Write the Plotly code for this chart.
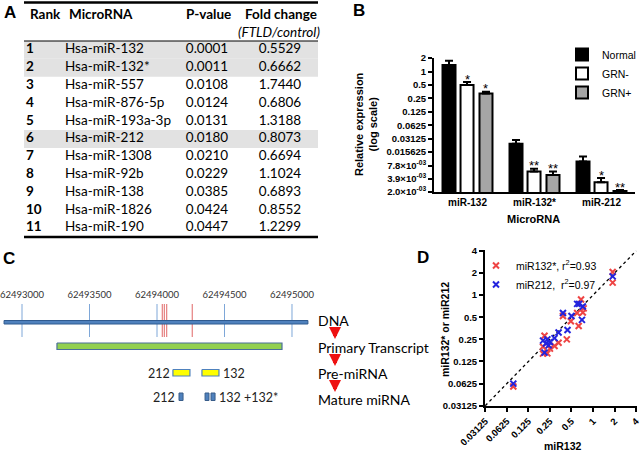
import plotly.graph_objects as go
import math

W, H = 640, 451


def px(x):
    return x / W


def py(y):
    return 1 - y / H


# ---------------- Panel A data ----------------
ranks = [1, 2, 3, 4, 5, 6, 7, 8, 9, 10, 11]
mirnas = ["Hsa-miR-132", "Hsa-miR-132*", "Hsa-miR-557", "Hsa-miR-876-5p", "Hsa-miR-193a-3p",
          "Hsa-miR-212", "Hsa-miR-1308", "Hsa-miR-92b", "Hsa-miR-138", "Hsa-miR-1826", "Hsa-miR-190"]
pvalues = ["0.0001", "0.0011", "0.0108", "0.0124", "0.0131", "0.0180", "0.0210", "0.0229",
           "0.0385", "0.0424", "0.0447"]
fold_changes = ["0.5529", "0.6662", "1.7440", "0.6806", "1.3188", "0.8073", "0.6694", "1.1024",
                "0.6893", "0.8552", "1.2299"]
shaded_ranks = [1, 2, 6]
table_headers = ["Rank", "MicroRNA", "P-value", "Fold change"]
fold_subheader = "(FTLD/control)"

# ---------------- Panel B data ----------------
categories = ["miR-132", "miR-132*", "miR-212"]
groups = ["Normal", "GRN-", "GRN+"]
normal = [1.40, 0.024, 0.0096]
normal_err = [0.35, 0.005, 0.0028]
grn_minus = [0.50, 0.0057, 0.0033]
grn_minus_err = [0.08, 0.0009, 0.0008]
grn_plus = [0.32, 0.0048, 0.0021]
grn_plus_err = [0.03, 0.0009, 0.0001]
grn_minus_sig = ["*", "**", "*"]
grn_plus_sig = ["*", "**", "**"]
b_tickvals = [2, 1, 0.5, 0.25, 0.125, 0.0625, 0.03125, 0.015625, 0.0078, 0.0039, 0.002]
b_ticktext = ["2", "1", "0.5", "0.25", "0.125", "0.0625", "0.03125", "0.015625",
              "7.8×10<sup>-03</sup>", "3.9×10<sup>-03</sup>", "2.0×10<sup>-03</sup>"]

# ---------------- Panel C data ----------------
c_ticks = [62493000, 62493500, 62494000, 62494500, 62495000]
dna_span = [62492867, 62495118]
primary_span = [62493259, 62494926]
pre_212 = [62494118, 62494244]
pre_132 = [62494333, 62494459]
mature_212 = [62494163, 62494193]
mature_132 = [62494356, 62494385]
mature_132s = [62494400, 62494430]
variant_positions = [62494039, 62494054, 62494072, 62494261]
stages = ["DNA", "Primary Transcript", "Pre-miRNA", "Mature miRNA"]

# ---------------- Panel D data ----------------
d_ticks = [0.03125, 0.0625, 0.125, 0.25, 0.5, 1, 2, 4]
d_ticktext = ["0.03125", "0.0625", "0.125", "0.25", "0.5", "1", "2", "4"]
mir132_x_a = [1.88, 1.88, 0.68, 0.74, 0.72, 0.60, 0.38, 0.49, 0.63, 0.43, 0.21, 0.33, 0.29,
              0.25, 0.20, 0.23, 0.20, 0.077]
mir132s_y = [2.06, 1.48, 0.87, 0.66, 0.58, 0.57, 0.52, 0.44, 0.38, 0.25, 0.28, 0.225, 0.203,
             0.187, 0.198, 0.161, 0.160, 0.057]
mir132_x_b = [1.88, 0.60, 0.64, 0.72, 0.38, 0.50, 0.70, 0.44, 0.33, 0.29, 0.20, 0.23, 0.22,
              0.24, 0.25, 0.21, 0.077]
mir212_y = [1.80, 0.76, 0.76, 0.70, 0.57, 0.52, 0.46, 0.335, 0.31, 0.26, 0.24, 0.25, 0.22,
            0.207, 0.23, 0.165, 0.0625]
d_legend = ["miR132*, r<sup>2</sup>=0.93", "miR212,  r<sup>2</sup>=0.97"]

ARIAL = "Arial, Liberation Sans, sans-serif"
CAL = "Lato, Carlito, sans-serif"

fig = go.Figure()
annotations = []

# ---------------- Panel A: table (hidden axes x5/y5, y = rank) ----------------
fig.add_trace(go.Bar(
    y=shaded_ranks, x=[294] * len(shaded_ranks), base=24, orientation="h", width=1,
    marker=dict(color="#e2e2e2", line=dict(width=0)), xaxis="x5", yaxis="y5",
    hoverinfo="skip", showlegend=False))
cell_font = dict(family=CAL, size=13.5, color="black")
for col_x, texts, pos in [(26, [f"<b>{r}</b>" for r in ranks], "middle right"),
                          (65, mirnas, "middle right"),
                          (207, pvalues, "middle center"),
                          (280, fold_changes, "middle center")]:
    fig.add_trace(go.Scatter(x=[col_x] * len(ranks), y=ranks, text=texts, mode="text",
                             textposition=pos, textfont=cell_font, xaxis="x5", yaxis="y5",
                             hoverinfo="skip", showlegend=False, cliponaxis=False))
hdr_font = dict(family=CAL, size=13.5, color="black", weight="bold")
for h, x, anchor in zip(table_headers, [28, 67, 208, 281], ["left", "left", "center", "center"]):
    annotations.append(dict(x=px(x), y=py(14), xref="paper", yref="paper", text=h, showarrow=False,
                            xanchor=anchor, yanchor="middle", font=hdr_font))
annotations.append(dict(x=px(279), y=py(32), xref="paper", yref="paper",
                        text=f"<i>{fold_subheader}</i>", showarrow=False, xanchor="center",
                        yanchor="middle", font=dict(family=CAL, size=13.5, color="black")))

# ---------------- Panel B: bars ----------------
bar_fill = ["black", "white", "#a6a6a6"]
bar_vals = [normal, grn_minus, grn_plus]
bar_errs = [normal_err, grn_minus_err, grn_plus_err]
bar_offsets = [-0.373, -0.104, 0.179]
bar_width = 0.194
for name, vals, errs, col, off in zip(groups, bar_vals, bar_errs, bar_fill, bar_offsets):
    fig.add_trace(go.Bar(
        x=categories, y=vals, name=name, xaxis="x2", yaxis="y2",
        offset=off, width=bar_width,
        marker=dict(color=col, line=dict(color="black", width=2)),
        error_y=dict(type="data", array=errs, arrayminus=[0] * len(errs), symmetric=False,
                     color="black", thickness=2, width=4),
        legend="legend",
    ))

for sigs, vals, errs, off in [(grn_minus_sig, grn_minus, grn_minus_err, bar_offsets[1]),
                              (grn_plus_sig, grn_plus, grn_plus_err, bar_offsets[2])]:
    for i, (s, v, e) in enumerate(zip(sigs, vals, errs)):
        annotations.append(dict(x=i + off + bar_width / 2, y=math.log10(v + e), xref="x2", yref="y2",
                                text=s, showarrow=False, yanchor="middle", yshift=3,
                                font=dict(family=ARIAL, size=13, color="black")))

# ---------------- Panel C: gene diagram ----------------
def rect(x0, x1, y0, y1, fill, line, lw=1):
    return go.Scatter(x=[x0, x1, x1, x0, x0], y=[y0, y0, y1, y1, y0], mode="lines",
                      fill="toself", fillcolor=fill, line=dict(color=line, width=lw),
                      xaxis="x4", yaxis="y4", hoverinfo="skip", showlegend=False)


vx, vy = [], []
for t in c_ticks:
    vx += [t, t, None]
    vy += [304, 337, None]
fig.add_trace(go.Scatter(x=vx, y=vy, mode="lines", line=dict(color="#7ea7d8", width=1),
                         xaxis="x4", yaxis="y4", hoverinfo="skip", showlegend=False))
rx, ry = [], []
for t in variant_positions:
    rx += [t, t, None]
    ry += [304, 337, None]
fig.add_trace(go.Scatter(x=rx, y=ry, mode="lines", line=dict(color="#e06666", width=1),
                         xaxis="x4", yaxis="y4", hoverinfo="skip", showlegend=False))
fig.add_trace(rect(dna_span[0], dna_span[1], 320.5, 324, "#4f81bd", "#2f5a8f", 1))
fig.add_trace(rect(primary_span[0], primary_span[1], 343, 349.5, "#92d050", "#4a6f9a", 1.2))
fig.add_trace(rect(pre_212[0], pre_212[1], 369.5, 376, "#ffff00", "#4f81bd", 1.2))
fig.add_trace(rect(pre_132[0], pre_132[1], 369.5, 376, "#ffff00", "#4f81bd", 1.2))
for m in (mature_212, mature_132, mature_132s):
    fig.add_trace(rect(m[0], m[1], 393, 400.5, "#4f81bd", "#385d8a", 1))
fig.add_trace(go.Scatter(x=c_ticks, y=[296] * len(c_ticks), mode="text",
                         text=[str(t) for t in c_ticks],
                         textfont=dict(family=CAL, size=9.5, color="#333333"),
                         xaxis="x4", yaxis="y4", hoverinfo="skip", showlegend=False,
                         cliponaxis=False))

small = dict(family=CAL, size=12.5, color="#222222")
annotations += [
    dict(x=pre_212[0], y=373, xref="x4", yref="y4", text="212", showarrow=False,
         xanchor="right", xshift=-1, font=small),
    dict(x=pre_132[1], y=373, xref="x4", yref="y4", text="132", showarrow=False,
         xanchor="left", xshift=2, font=small),
    dict(x=mature_212[0], y=397, xref="x4", yref="y4", text="212", showarrow=False,
         xanchor="right", xshift=-2, font=small),
    dict(x=mature_132s[1], y=397, xref="x4", yref="y4", text="132 +132*", showarrow=False,
         xanchor="left", xshift=2, font=small),
]
for s, yy in zip(stages, [320, 347, 373, 399]):
    annotations.append(dict(x=px(316), y=py(yy), xref="paper", yref="paper", text=s,
                            showarrow=False, xanchor="left", yanchor="middle",
                            font=dict(family=CAL, size=14, color="black")))
for tip in [339, 366, 392]:
    annotations.append(dict(x=px(335), y=py(tip), xref="paper", yref="paper", text="",
                            showarrow=True, ax=0, ay=-12, arrowhead=2, arrowwidth=4,
                            arrowsize=0.6, arrowcolor="#ee1111"))

# ---------------- Panel D: scatter ----------------
fig.add_trace(go.Scatter(x=[d_ticks[0], d_ticks[-1]], y=[d_ticks[0], d_ticks[-1]], mode="lines",
                         line=dict(color="black", width=1.3, dash="dot"),
                         xaxis="x3", yaxis="y3", hoverinfo="skip", showlegend=False))
fig.add_trace(go.Scatter(x=mir132_x_a, y=mir132s_y, mode="markers", name=d_legend[0],
                         marker=dict(symbol="x-thin", size=6, line=dict(color="#ee4444", width=2)),
                         xaxis="x3", yaxis="y3", legend="legend2"))
fig.add_trace(go.Scatter(x=mir132_x_b, y=mir212_y, mode="markers", name=d_legend[1],
                         marker=dict(symbol="x-thin", size=6, line=dict(color="#2323dd", width=2)),
                         xaxis="x3", yaxis="y3", legend="legend2"))

# ---------------- Titles / panel letters ----------------
lab = dict(family=ARIAL, size=17, color="black", weight="bold")
for t, x, y in [("A", 10, 12), ("B", 359, 10), ("C", 9, 258), ("D", 423, 257)]:
    annotations.append(dict(x=px(x), y=py(y), xref="paper", yref="paper", text=t, showarrow=False,
                            xanchor="center", yanchor="middle", font=lab))
annotations.append(dict(x=px(366), y=py(124), xref="paper", yref="paper",
                        text="Relative expression<br>(log scale)", showarrow=False, textangle=-90,
                        xanchor="center", yanchor="middle",
                        font=dict(family=ARIAL, size=11, color="black", weight="bold")))
annotations.append(dict(x=px(533), y=py(219), xref="paper", yref="paper", text="MicroRNA",
                        showarrow=False, xanchor="center", yanchor="middle",
                        font=dict(family=ARIAL, size=11, color="black", weight="bold")))
annotations.append(dict(x=px(445), y=py(330), xref="paper", yref="paper", text="miR132* or miR212",
                        showarrow=False, textangle=-90, xanchor="center", yanchor="middle",
                        font=dict(family=ARIAL, size=10.5, color="black", weight="bold")))
annotations.append(dict(x=px(563), y=py(446), xref="paper", yref="paper", text="miR132",
                        showarrow=False, xanchor="center", yanchor="middle",
                        font=dict(family=ARIAL, size=10.5, color="black", weight="bold")))

shapes = [
    dict(type="line", xref="paper", yref="paper", x0=px(24), x1=px(318), y0=py(2.5), y1=py(2.5),
         line=dict(color="black", width=2.5)),
    dict(type="line", xref="paper", yref="paper", x0=px(24), x1=px(318), y0=py(41), y1=py(41),
         line=dict(color="black", width=1)),
    dict(type="line", xref="paper", yref="paper", x0=px(24), x1=px(318), y0=py(237), y1=py(237),
         line=dict(color="black", width=2.5)),
]

tickf = dict(family=ARIAL, size=9.5, color="black", weight="bold")
d_range = [math.log10(d_ticks[0]) - 0.004, math.log10(d_ticks[-1]) + 0.012]
fig.update_layout(
    width=W, height=H, autosize=False,
    margin=dict(l=0, r=0, t=0, b=0, pad=0, autoexpand=False),
    paper_bgcolor="white", plot_bgcolor="rgba(0,0,0,0)",
    barmode="overlay",
    annotations=annotations, shapes=shapes,
    xaxis2=dict(domain=[px(434), px(635)], anchor="y2", type="category", range=[-0.5, 2.5],
                showline=True, linecolor="black", linewidth=2, ticks="", showgrid=False,
                tickfont=dict(family=ARIAL, size=10, color="black", weight="bold"), zeroline=False),
    yaxis2=dict(domain=[py(192), py(58)], anchor="x2", type="log",
                range=[math.log10(0.002) - 0.002, math.log10(2) + 0.002],
                tickvals=b_tickvals, ticktext=b_ticktext,
                showline=True, linecolor="black", linewidth=2, ticks="outside", ticklen=4,
                tickwidth=1.5, tickcolor="black", showgrid=False, zeroline=False, tickfont=tickf),
    xaxis3=dict(domain=[px(485), px(637)], anchor="y3", type="log",
                range=d_range, tickvals=d_ticks, ticktext=d_ticktext, ticklabeloverflow="allow",
                tickangle=-45, showline=True, linecolor="black", linewidth=2, ticks="outside",
                ticklen=4, tickwidth=1.5, tickcolor="black", showgrid=False, zeroline=False,
                tickfont=tickf),
    yaxis3=dict(domain=[py(406), py(250)], anchor="x3", type="log",
                range=d_range, tickvals=d_ticks, ticktext=d_ticktext, ticklabeloverflow="allow",
                showline=True, linecolor="black", linewidth=2, ticks="outside", ticklen=4,
                tickwidth=1.5, tickcolor="black", showgrid=False, zeroline=False, tickfont=tickf),
    xaxis4=dict(domain=[0, 0.66], anchor="y4", range=[62492837, 62495966], visible=False),
    yaxis4=dict(domain=[0, 0.37], anchor="x4", range=[451, 451 - 0.37 * H], visible=False),
    xaxis5=dict(domain=[px(20), px(320)], anchor="y5", range=[20, 320], visible=False),
    yaxis5=dict(domain=[py(237), py(41)], anchor="x5", range=[11.5, 0.5], visible=False),
    legend=dict(x=px(562), y=py(40), xanchor="left", yanchor="top", bgcolor="rgba(0,0,0,0)",
                font=dict(family=ARIAL, size=10.5, color="black"), tracegroupgap=0,
                itemwidth=30, traceorder="normal"),
    legend2=dict(x=px(476), y=py(251), xanchor="left", yanchor="top", bgcolor="rgba(0,0,0,0)",
                 font=dict(family=ARIAL, size=10.5, color="black"), tracegroupgap=0,
                 itemwidth=30, traceorder="normal"),
)

fig.write_html("out.html", config={"displayModeBar": False},
               post_script="document.body.style.margin='0px';document.body.style.overflow='hidden';")
